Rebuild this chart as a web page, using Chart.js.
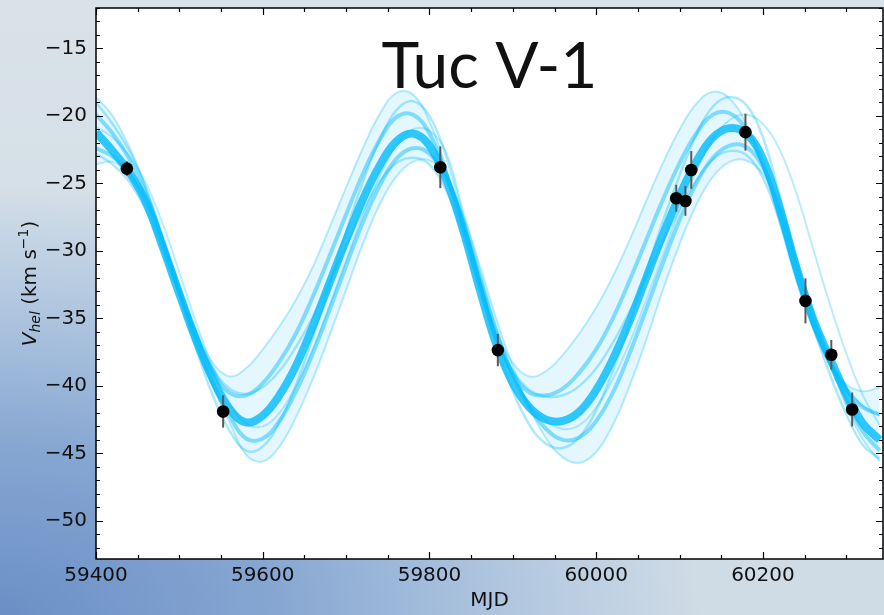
<!DOCTYPE html>
<html><head><meta charset="utf-8">
<script src="https://cdn.jsdelivr.net/npm/chart.js@4.4.1/dist/chart.umd.min.js"></script>
<style>
html,body{margin:0;padding:0;width:884px;height:615px;overflow:hidden;}
body{background:
  radial-gradient(ellipse 700px 430px at 0% 100%, #6b8fc6 0%, #87a7d2 40%, rgba(165,191,221,0.75) 72%, rgba(214,224,232,0) 100%),
  linear-gradient(to bottom, #d9e2e9 0%, #d2dde6 60%, #cfdbe5 100%);}
canvas{display:block;}
</style></head><body>
<canvas id="c" width="884" height="615"></canvas>
<script>
// ---- data ----
const mjdGrid = [59400,59420,59440,59460,59480,59500,59520,59540,59560,59580,59600,59620,59640,59660,59680,59700,59720,59740,59760,59780,59800,59820,59840,59860,59880,59900,59920,59940,59960,59980,60000,60020,60040,60060,60080,60100,60120,60140,60160,60180,60200,60220,60240,60260,60280,60300,60320,60340];
const curveCentral = [-21.2,-22.6,-24.2,-26.4,-29.7,-33.2,-36.6,-39.5,-41.7,-42.7,-42.2,-40.7,-38.5,-35.6,-32.4,-29.2,-26.2,-23.7,-21.9,-21.3,-22.2,-24.7,-28.4,-32.8,-36.9,-39.8,-41.6,-42.5,-42.6,-41.9,-40.3,-38.0,-35.2,-32.0,-28.8,-25.9,-23.4,-21.6,-20.9,-21.3,-23.2,-26.8,-31.2,-35.0,-37.9,-40.6,-42.8,-44.0];
const curveEarly = [-18.6,-20.0,-22.3,-25.3,-28.9,-32.5,-35.8,-38.3,-39.3,-38.7,-37.3,-35.6,-33.6,-31.2,-28.3,-25.3,-22.4,-19.9,-18.3,-18.4,-20.4,-23.9,-28.1,-32.4,-36.0,-38.3,-39.3,-38.9,-37.7,-36.1,-34.2,-31.9,-29.2,-26.3,-23.5,-21.0,-19.1,-18.2,-18.7,-20.6,-23.8,-27.9,-32.2,-35.8,-38.4,-39.9,-40.4,-40.1];
const curveLate = [-23.6,-23.4,-24.3,-26.3,-29.4,-33.0,-36.7,-40.0,-42.7,-45.1,-45.6,-44.5,-42.3,-39.5,-36.3,-32.9,-29.5,-26.6,-24.5,-23.4,-23.3,-24.5,-27.3,-31.0,-35.0,-38.6,-41.6,-43.9,-45.3,-45.7,-44.9,-42.9,-40.0,-36.6,-32.9,-29.5,-26.6,-24.5,-23.4,-23.3,-24.3,-26.8,-30.5,-34.5,-38.2,-41.5,-44.0,-45.6];
const curveEarlyMid = [-19.9,-21.3,-23.2,-25.8,-29.2,-32.9,-36.2,-38.9,-40.5,-40.7,-39.8,-38.2,-36.1,-33.4,-30.4,-27.3,-24.3,-21.8,-20.1,-19.9,-21.3,-24.3,-28.3,-32.6,-36.5,-39.1,-40.5,-40.7,-40.2,-39.0,-37.3,-35.0,-32.2,-29.2,-26.2,-23.5,-21.3,-19.9,-19.8,-21.0,-23.5,-27.4,-31.7,-35.4,-38.2,-40.3,-41.6,-42.1];
const curveLateMid = [-22.4,-23.0,-24.3,-26.4,-29.6,-33.1,-36.7,-39.8,-42.2,-43.9,-43.9,-42.6,-40.4,-37.6,-34.4,-31.1,-27.9,-25.2,-23.2,-22.4,-22.8,-24.6,-27.9,-31.9,-36.0,-39.2,-41.6,-43.2,-44.0,-43.8,-42.6,-40.5,-37.6,-34.3,-30.9,-27.7,-25.0,-23.1,-22.2,-22.3,-23.8,-26.8,-30.9,-34.8,-38.1,-41.1,-43.4,-44.8];
const curveHighAmp = [-19.0,-20.6,-22.6,-25.4,-29.1,-33.2,-37.2,-40.7,-43.3,-44.8,-44.5,-42.7,-39.9,-36.4,-32.5,-28.6,-24.9,-21.8,-19.6,-18.9,-20.0,-23.0,-27.4,-32.3,-36.9,-40.4,-42.9,-44.3,-44.6,-43.8,-41.8,-38.9,-35.4,-31.6,-27.8,-24.4,-21.4,-19.3,-18.6,-19.2,-21.6,-25.9,-30.9,-35.5,-39.1,-42.1,-44.4,-45.4];
const curveLowAmp = [-22.8,-23.6,-24.9,-27.0,-30.0,-33.2,-36.2,-38.7,-40.2,-40.6,-40.1,-38.9,-37.1,-34.9,-32.3,-29.6,-27.1,-24.9,-23.5,-23.1,-23.6,-25.5,-28.7,-32.7,-36.4,-38.9,-40.3,-40.8,-40.7,-40.0,-38.7,-36.8,-34.5,-31.9,-29.3,-26.9,-24.8,-23.2,-22.6,-22.9,-24.6,-27.8,-31.9,-35.5,-38.1,-40.1,-41.5,-42.2];
const curveOutlier = [-20.8,-21.6,-23.0,-25.0,-28.0,-31.6,-35.3,-38.6,-41.2,-42.8,-43.0,-42.0,-40.0,-37.3,-34.1,-30.7,-27.4,-24.5,-22.2,-21.0,-21.1,-22.7,-27.0,-31.4,-35.6,-39.0,-41.4,-42.6,-43.2,-42.9,-41.6,-39.5,-36.8,-33.6,-30.3,-27.0,-24.1,-21.7,-20.3,-19.9,-20.6,-22.5,-25.7,-29.8,-33.9,-37.6,-40.7,-42.9];

const obsMJD = [59437,59552.5,59813,59882,60096,60107,60114,60179,60251,60282,60307];
const obsV   = [-23.9,-41.9,-23.8,-37.35,-26.1,-26.3,-24.0,-21.2,-33.7,-37.7,-41.75];
const obsErr = [0.55,1.2,1.55,1.2,1.0,1.1,1.4,1.37,1.67,1.1,1.26];

const xTickLabels = [59400,59600,59800,60000,60200];
const yTickLabels = [-50,-45,-40,-35,-30,-25,-20,-15];
const titleText = 'Tuc V-1';

// ---- helpers ----
const toXY = arr => mjdGrid.map((x,i)=>({x:x, y:arr[i]}));
const FONT = "'DejaVu Sans', sans-serif";
const fmt = v => v < 0 ? '\u2212' + Math.abs(v) : String(v);

function curveDs(arr, width, color, order, extra){
  return Object.assign({type:'line', data:toXY(arr), borderColor:color, borderWidth:width,
    pointRadius:0, tension:0.4, fill:false, clip:0, order:order}, extra||{});
}

const bgPlugin = {
  id:'bg',
  beforeDraw(chart){
    const {ctx, chartArea:a} = chart;
    ctx.save(); ctx.fillStyle='#ffffff';
    ctx.fillRect(a.left, a.top, a.right-a.left, a.bottom-a.top); ctx.restore();
  }
};

const errPlugin = {
  id:'errbars',
  beforeDatasetDraw(chart, args){
    if (args.index !== 0) return;
    const {ctx, scales:{x, y}, chartArea:a} = chart;
    ctx.save();
    ctx.beginPath(); ctx.rect(a.left,a.top,a.right-a.left,a.bottom-a.top); ctx.clip();
    ctx.strokeStyle='#5a5a5a'; ctx.lineWidth=2;
    obsMJD.forEach((m,i)=>{
      const px = x.getPixelForValue(m);
      ctx.beginPath();
      ctx.moveTo(px, y.getPixelForValue(obsV[i]-obsErr[i]));
      ctx.lineTo(px, y.getPixelForValue(obsV[i]+obsErr[i]));
      ctx.stroke();
    });
    ctx.restore();
  }
};

const framePlugin = {
  id:'frame',
  afterDraw(chart){
    const {ctx, scales:{x, y}, chartArea:a} = chart;
    ctx.save();
    ctx.strokeStyle='#000'; ctx.lineWidth=1.5;
    ctx.strokeRect(a.left, a.top, a.right-a.left, a.bottom-a.top);
    ctx.lineWidth=1.2;
    ctx.beginPath();
    for (let v=Math.ceil(x.min/50)*50; v<=x.max; v+=50){
      const px = Math.round(x.getPixelForValue(v))+0.5;
      const L = (v % 200 === 0) ? 7 : 4;
      ctx.moveTo(px, a.bottom); ctx.lineTo(px, a.bottom-L);
      ctx.moveTo(px, a.top); ctx.lineTo(px, a.top+L);
    }
    for (let v=Math.ceil(y.min); v<=y.max; v+=1){
      const py = Math.round(y.getPixelForValue(v))+0.5;
      const L = (v % 5 === 0) ? 7 : 4;
      ctx.moveTo(a.left, py); ctx.lineTo(a.left+L, py);
      ctx.moveTo(a.right, py); ctx.lineTo(a.right-L, py);
    }
    ctx.stroke();
    // big title inside the plot
    ctx.fillStyle='#111';
    ctx.font = "64px Lato, 'Open Sans', sans-serif";
    ctx.textAlign='center'; ctx.textBaseline='alphabetic';
    ctx.fillText(titleText, (a.left+a.right)/2, 88);
    // y axis title with sub/superscripts
    ctx.translate(36, (a.top+a.bottom)/2);
    ctx.rotate(-Math.PI/2);
    const parts = [
      {t:'V', f:"italic 20px "+FONT, dy:0},
      {t:'hel', f:"italic 14px "+FONT, dy:4},
      {t:' (km s', f:"20px "+FONT, dy:0},
      {t:'\u22121', f:"14px "+FONT, dy:-8},
      {t:')', f:"20px "+FONT, dy:0}
    ];
    let total=0;
    parts.forEach(p=>{ctx.font=p.f; p.w=ctx.measureText(p.t).width; total+=p.w;});
    let cx=-total/2;
    ctx.textAlign='left';
    parts.forEach(p=>{ctx.font=p.f; ctx.fillText(p.t, cx, p.dy); cx+=p.w;});
    ctx.restore();
  }
};

const blue = 'rgba(0,186,250,';
const datasets = [
  {type:'scatter', data:obsMJD.map((m,i)=>({x:m,y:obsV[i]})), pointRadius:6.3, pointHoverRadius:6.3,
   pointBackgroundColor:'#000', pointBorderWidth:0, showLine:false, clip:0, order:0},
  curveDs(curveCentral, 8, blue+'0.8)', 1),
  curveDs(curveEarlyMid, 4, blue+'0.45)', 2),
  curveDs(curveLateMid, 4, blue+'0.45)', 2),
  curveDs(curveHighAmp, 2.5, blue+'0.32)', 3),
  curveDs(curveLowAmp, 2.5, blue+'0.32)', 3),
  curveDs(curveOutlier, 2, blue+'0.28)', 3),
  curveDs(curveLate, 2, blue+'0.28)', 4),
  curveDs(curveEarly, 2, blue+'0.28)', 5, {fill:'-1', backgroundColor:'rgba(90,205,250,0.16)'})
];

new Chart(document.getElementById('c'), {
  data:{datasets},
  options:{
    responsive:false, animation:false, devicePixelRatio:1,
    layout:{autoPadding:false, padding:{top:8, right:1, bottom:0, left:0}},
    plugins:{legend:{display:false}, tooltip:{enabled:false}},
    scales:{
      x:{type:'linear', min:59400, max:60344,
        afterBuildTicks:s=>{s.ticks = xTickLabels.map(v=>({value:v}));},
        afterFit:s=>{s.height=56; s.paddingLeft=0; s.paddingRight=0; s.paddingTop=0; s.paddingBottom=0;},
        grid:{display:false, drawTicks:false}, border:{display:false},
        ticks:{callback:v=>String(v), font:{family:FONT, size:20}, color:'#111', padding:5, maxRotation:0, autoSkip:false},
        title:{display:true, text:'MJD', font:{family:FONT, size:20}, color:'#111', padding:{top:0,bottom:2}}
      },
      y:{type:'linear', min:-52.83, max:-12,
        afterBuildTicks:s=>{s.ticks = yTickLabels.map(v=>({value:v}));},
        afterFit:s=>{s.width=96; s.paddingLeft=0; s.paddingRight=0; s.paddingTop=0; s.paddingBottom=0;},
        grid:{display:false, drawTicks:false}, border:{display:false},
        ticks:{callback:v=>fmt(v), font:{family:FONT, size:20}, color:'#111', padding:9, autoSkip:false}
      }
    }
  },
  plugins:[bgPlugin, errPlugin, framePlugin]
});
</script>
</body></html>
